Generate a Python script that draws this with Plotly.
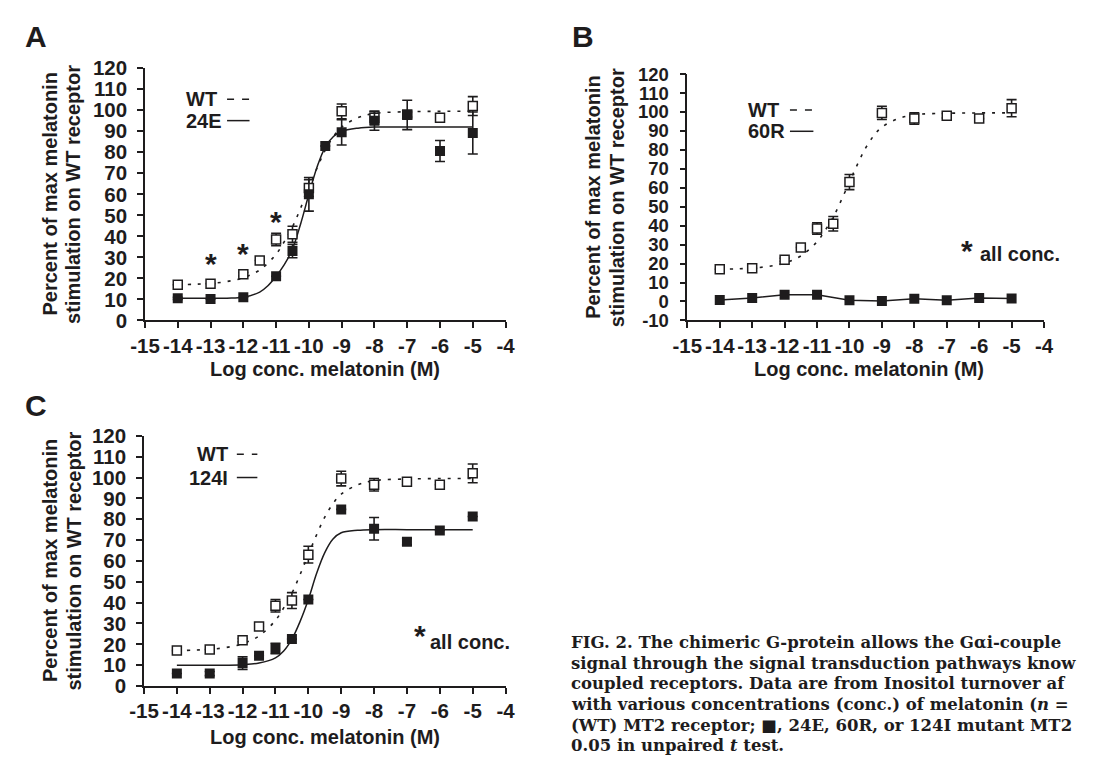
import plotly.graph_objects as go

W, H = 1098, 762
INK = "#1e1c1d"
SANS = "Liberation Sans, Arial, sans-serif"
SERIF = "DejaVu Serif, serif"

# ---------------- data ----------------
X_TICKS = [-15, -14, -13, -12, -11, -10, -9, -8, -7, -6, -5, -4]
X_TICK_TEXT = ["-15", "-14", "-13", "-12", "-11", "-10", "-9", "-8", "-7", "-6", "-5", "-4"]
Y_TICKS_AC = [0, 10, 20, 30, 40, 50, 60, 70, 80, 90, 100, 110, 120]
Y_TICK_TEXT_AC = ["0", "10", "20", "30", "40", "50", "60", "70", "80", "90", "100", "110", "120"]
Y_TICKS_B = [-10, 0, 10, 20, 30, 40, 50, 60, 70, 80, 90, 100, 110, 120]
Y_TICK_TEXT_B = ["-10", "0", "10", "20", "30", "40", "50", "60", "70", "80", "90", "100", "110", "120"]

# wild-type receptor (open squares), same in all three panels
WT_X = [-14, -13, -12, -11.5, -11, -10.5, -10, -9, -8, -7, -6, -5]
WT_Y = [17, 17.5, 22, 28.5, 38.5, 41, 63, 99.5, 96.5, 98, 96.5, 102]
WT_ERR = [0, 0, 0.8, 0, 3, 3.8, 4, 3.5, 3, 1.2, 0, 4.5]
# WT fitted curve
WT_FIT_X = [-14, -13.5, -13, -12.5, -12, -11.5, -11, -10.75, -10.5, -10.25, -10, -9.75, -9.5, -9.25, -9, -8.5, -8, -7, -6, -5]
WT_FIT_Y = [17.0, 17.2, 17.6, 18.5, 20.3, 24.0, 31.5, 37.5, 44.5, 53.5, 63.0, 72.5, 81.0, 87.5, 92.0, 96.5, 98.5, 99.3, 99.5, 99.5]

# panel A: 24E mutant
E24_X = [-14, -13, -12, -11, -10.5, -10, -9.5, -9, -8, -7, -6, -5]
E24_Y = [10.5, 10.2, 11, 21, 33, 60, 83, 89.5, 95, 97.8, 80.6, 89.2]
E24_ERR = [0.5, 0, 0, 0, 3.2, 8, 0, 6, 4.5, 7, 5, 10]
E24_FIT_X = [-14, -13, -12.5, -12, -11.5, -11.25, -11, -10.75, -10.5, -10.25, -10, -9.75, -9.5, -9.25, -9, -8.5, -8, -7, -6, -5]
E24_FIT_Y = [10.5, 10.5, 10.6, 11.0, 13.5, 16.5, 21.0, 26.5, 34.0, 46.0, 60.0, 73.0, 82.5, 87.5, 90.0, 91.5, 92.0, 92.0, 92.0, 92.0]

# panel B: 60R mutant
R60_X = [-14, -13, -12, -11, -10, -9, -8, -7, -6, -5]
R60_Y = [0.8, 1.8, 3.5, 3.5, 0.7, 0.3, 1.4, 0.7, 1.8, 1.5]

# panel C: 124I mutant
I124_X = [-14, -13, -12, -11.5, -11, -10.5, -10, -9, -8, -7, -6, -5]
I124_Y = [6, 6, 11, 14.5, 18, 22.5, 41.5, 84.7, 75.4, 69.2, 74.6, 81.3]
I124_ERR = [0, 1, 3, 0, 2.5, 0, 0, 0, 5.4, 1.5, 0, 0]
I124_FIT_X = [-14, -13, -12.5, -12, -11.5, -11, -10.75, -10.5, -10.25, -10, -9.75, -9.5, -9.25, -9, -8.5, -8, -7, -6, -5]
I124_FIT_Y = [10, 10, 10, 10.2, 11, 13.5, 16.8, 22.5, 31, 41.5, 54, 64, 70.5, 73.5, 74.7, 75, 75, 75, 75]

SIG_A_X = [-13, -12, -11]          # concentrations marked * in panel A
SIG_A_Y = [30, 34.6, 50]

CAPTION = [
    "FIG. 2. The chimeric G-protein allows the G\u03b1i-couple",
    "signal through the signal transduction pathways know",
    "coupled receptors. Data are from Inositol turnover af",
    "with various concentrations (conc.) of melatonin (<i>n</i> = ",
    "(WT) MT2 receptor; \u25a0, 24E, 60R, or 124I mutant MT2 ",
    "0.05 in unpaired <i>t</i> test.",
]


def px(x):
    return x / W


def py(y):
    return 1 - y / H


fig = go.Figure()

panels = [
    dict(xa="x", ya="y", mut=(E24_X, E24_Y, E24_ERR), fit=(E24_FIT_X, E24_FIT_Y)),
    dict(xa="x2", ya="y2", mut=(R60_X, R60_Y, None), fit=None),
    dict(xa="x3", ya="y3", mut=(I124_X, I124_Y, I124_ERR), fit=(I124_FIT_X, I124_FIT_Y)),
]

for p in panels:
    fig.add_trace(go.Scatter(x=WT_FIT_X, y=WT_FIT_Y, mode="lines", xaxis=p["xa"], yaxis=p["ya"],
                             line=dict(color=INK, width=1.6, dash="3px,7px", shape="spline", smoothing=1.0),
                             hoverinfo="skip", showlegend=False))
    if p["fit"] is not None:
        fig.add_trace(go.Scatter(x=p["fit"][0], y=p["fit"][1], mode="lines", xaxis=p["xa"], yaxis=p["ya"],
                                 line=dict(color=INK, width=1.5, shape="spline", smoothing=1.0),
                                 hoverinfo="skip", showlegend=False))
    fig.add_trace(go.Scatter(x=WT_X, y=WT_Y, mode="markers", xaxis=p["xa"], yaxis=p["ya"],
                             marker=dict(symbol="square", size=9, color="white", line=dict(color=INK, width=1.5)),
                             error_y=dict(type="data", array=WT_ERR, visible=True, color=INK, thickness=1.6, width=5),
                             showlegend=False))
    mx, my, merr = p["mut"]
    if merr is None:
        fig.add_trace(go.Scatter(x=mx, y=my, mode="lines+markers", xaxis=p["xa"], yaxis=p["ya"],
                                 line=dict(color=INK, width=1.5),
                                 marker=dict(symbol="square", size=10, color=INK),
                                 showlegend=False))
    else:
        fig.add_trace(go.Scatter(x=mx, y=my, mode="markers", xaxis=p["xa"], yaxis=p["ya"],
                                 marker=dict(symbol="square", size=10, color=INK),
                                 error_y=dict(type="data", array=merr, visible=True, color=INK, thickness=1.6, width=5),
                                 showlegend=False))

tickfont = dict(family=SANS, size=20.5, color=INK, weight="bold")
axis_common = dict(showline=True, linecolor=INK, linewidth=1.5, ticks="outside", ticklen=6, tickwidth=1.5,
                   tickcolor=INK, showgrid=False, zeroline=False, tickfont=tickfont, fixedrange=True)
xcommon = dict(axis_common, range=[-15, -4], tickmode="array", tickvals=X_TICKS, ticktext=X_TICK_TEXT,
               ticklabelstandoff=0, tickangle=0)
ycommon = dict(axis_common, ticklabelstandoff=6)

fig.update_layout(
    width=W, height=H, margin=dict(l=0, r=0, t=0, b=0),
    paper_bgcolor="white", plot_bgcolor="white",
    xaxis=dict(xcommon, domain=[px(133), px(502)], anchor="y"),
    yaxis=dict(ycommon, domain=[py(318), py(58)], range=[0, 120], anchor="x",
               tickmode="array", tickvals=Y_TICKS_AC, ticktext=Y_TICK_TEXT_AC),
    xaxis2=dict(xcommon, domain=[px(688), px(1053)], anchor="y2"),
    yaxis2=dict(ycommon, domain=[py(318), py(64)], range=[-10, 120], anchor="x2",
                tickmode="array", tickvals=Y_TICKS_B, ticktext=Y_TICK_TEXT_B,
                tickfont=dict(tickfont, size=18.5), ticklabelstandoff=7),
    xaxis3=dict(xcommon, domain=[px(132), px(502)], anchor="y3"),
    yaxis3=dict(ycommon, domain=[py(695), py(437)], range=[0, 120], anchor="x3",
                tickmode="array", tickvals=Y_TICKS_AC, ticktext=Y_TICK_TEXT_AC),
)

ann = []
shapes = []


def text(x, y, s, size=20, xanchor="center", yanchor="middle", angle=0, family=SANS, weight="bold"):
    ann.append(dict(x=px(x), y=py(y), xref="paper", yref="paper", text=s, showarrow=False,
                    xanchor=xanchor, yanchor=yanchor, textangle=angle,
                    font=dict(family=family, size=size, color=INK, weight=weight)))


# panel letters
text(22, 25, "A", size=30)
text(581, 25, "B", size=30)
text(22, 406, "C", size=30)

titles = [
    # (y-title centre y, line1 x, line2 x, x-title centre x, x-title y)
    (188, 36, 60, 317, 368),
    (191, 592, 616, 874, 368),
    (566, 36, 60, 317, 748),
]
for (yc, l1, l2, xc, xy) in titles:
    text(l1, yc, "Percent of max melatonin", angle=-90)
    text(l2, yc, "stimulation on WT receptor", angle=-90)
    text(xc, xy, "Log conc. melatonin (M)")

legends = [
    # text x, label, wt y, mut y, sample x0, x1, anchor
    (173, "24E", 90, 112, 217, 240, "left"),
    (748, "60R", 101, 123, 793, 817, "left"),
    (220, "124I", 456, 480, 227, 248, "right"),
]
for (tx, lab, wy, my_, sx0, sx1, anc) in legends:
    text(tx, wy, "WT", xanchor=anc)
    text(tx, my_, lab, xanchor=anc)
    shapes.append(dict(type="line", xref="paper", yref="paper", x0=px(sx0), x1=px(sx1), y0=py(wy), y1=py(wy),
                       line=dict(color=INK, width=1.5, dash="7px,8px")))
    shapes.append(dict(type="line", xref="paper", yref="paper", x0=px(sx0), x1=px(sx1), y0=py(my_), y1=py(my_),
                       line=dict(color=INK, width=1.5)))

for sx, sy in zip(SIG_A_X, SIG_A_Y):
    ann.append(dict(x=sx, y=sy, xref="x", yref="y", text="*", showarrow=False, yshift=-6,
                    font=dict(family=SANS, size=30, color=INK, weight="bold")))

text(974, 246, "*", size=30)
text(1028, 250, "all conc.")
text(414, 643, "*", size=30)
text(466, 650, "all conc.")

for i, line in enumerate(CAPTION):
    text(567, 650 + i * 21.3, line, size=16.5, xanchor="left", family=SERIF)

fig.update_layout(annotations=ann, shapes=shapes)
fig.write_html("out.html", config={"displayModeBar": False},
               post_script="document.body.style.margin='0';")
